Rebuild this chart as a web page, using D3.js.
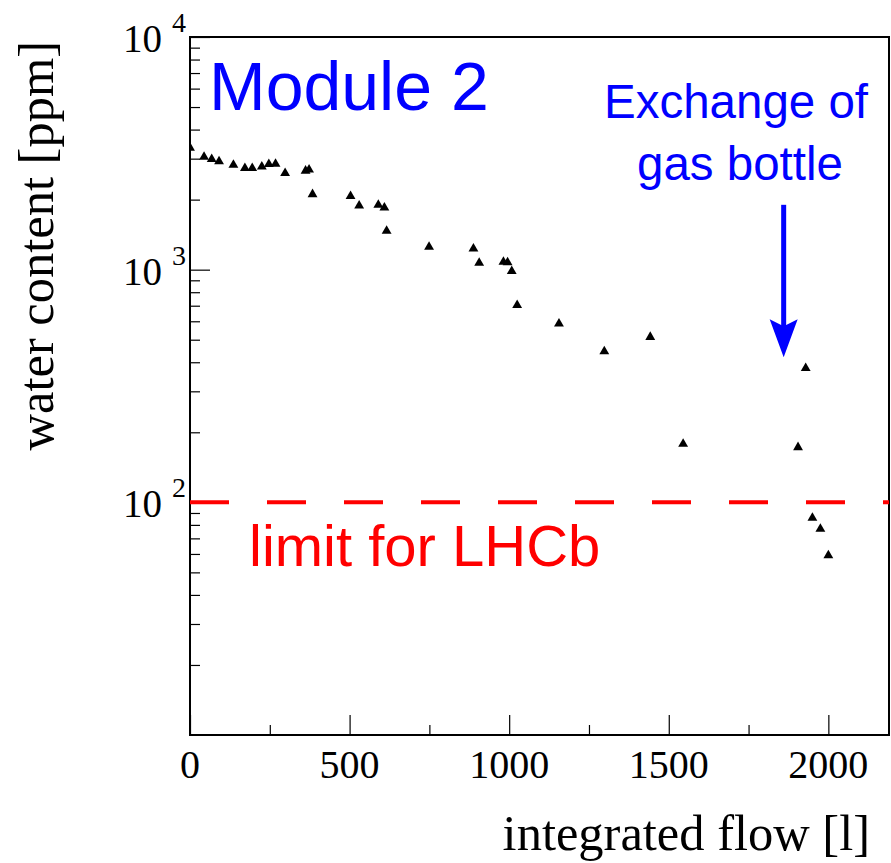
<!DOCTYPE html>
<html>
<head>
<meta charset="utf-8">
<script src="https://cdn.jsdelivr.net/npm/d3@7"></script>
<style>
  body { margin: 0; background: #fff; }
  svg { display: block; }
</style>
</head>
<body>
<div id="chart"></div>
<script>
// measured points (integrated flow in litres, water content in ppm)
const flow  = [0, 44, 68, 91, 136, 172, 195, 225, 247, 268, 298, 362, 373, 384,
               503, 530, 590, 609, 616, 749, 888, 906, 982, 995, 1008, 1025,
               1156, 1298, 1442, 1545, 1905, 1929, 1950, 1975, 2000];
const water = [3390, 3100, 3030, 2960, 2860, 2770, 2770, 2815, 2880, 2890, 2640, 2700, 2730, 2140,
               2100, 1910, 1925, 1875, 1490, 1270, 1250, 1085, 1095, 1090, 1000, 714,
               595, 452, 521, 181, 175, 383, 87, 78, 60];

const xMajor = [0, 500, 1000, 1500, 2000];
const xMinor = [250, 750, 1250, 1750];
const yPowers = [2, 3, 4];
const limitLHCb = 100;
// arrow marking the gas bottle exchange
const arrowFlow = 1860, arrowFrom = 1900, arrowTo = 420;

const W = 891, H = 863;
const pLeft = 190, pRight = 889, pTop = 37, pBottom = 735;

const svg = d3.select("#chart").append("svg")
    .attr("width", W).attr("height", H);

const x = d3.scaleLinear().domain([0, 2190]).range([pLeft, pRight]);
const y = d3.scaleLog().domain([10, 10000]).range([pBottom, pTop]);

svg.append("defs").append("clipPath").attr("id", "plot")
  .append("rect")
    .attr("x", pLeft).attr("y", pTop)
    .attr("width", pRight - pLeft).attr("height", pBottom - pTop);

// y ticks, inside the frame
const yMaj = [100, 1000, 10000];
const yMin = y.ticks().filter(v => !yMaj.includes(v) && v > 10 && v < 10000);
svg.append("g")
    .attr("transform", "translate(" + pLeft + ",0)")
    .call(d3.axisLeft(y).tickValues(yMaj).tickSize(-20).tickFormat(""))
    .call(g => g.select(".domain").remove());
svg.append("g")
    .attr("transform", "translate(" + pLeft + ",0)")
    .call(d3.axisLeft(y).tickValues(yMin).tickSize(-10).tickFormat(""))
    .call(g => g.select(".domain").remove());

// x ticks
svg.append("g")
    .attr("transform", "translate(0," + pBottom + ")")
    .call(d3.axisBottom(x).tickValues(xMajor).tickSize(-20).tickFormat(""))
    .call(g => g.select(".domain").remove());
svg.append("g")
    .attr("transform", "translate(0," + pBottom + ")")
    .call(d3.axisBottom(x).tickValues(xMinor).tickSize(-10).tickFormat(""))
    .call(g => g.select(".domain").remove());

svg.selectAll(".tick line").attr("stroke", "#000").attr("stroke-width", 1.2);

// frame
svg.append("rect")
    .attr("x", pLeft).attr("y", pTop)
    .attr("width", pRight - pLeft).attr("height", pBottom - pTop)
    .attr("fill", "none").attr("stroke", "#000").attr("stroke-width", 2);

// tick labels
const serif = "'Liberation Serif', 'Times New Roman', serif";
svg.append("g").selectAll("text")
  .data(xMajor)
  .join("text")
    .attr("x", d => x(d))
    .attr("y", 778)
    .attr("text-anchor", "middle")
    .attr("font-family", serif)
    .attr("font-size", 40)
    .text(d => d);

const yl = svg.append("g").selectAll("g")
  .data(yPowers)
  .join("g");
yl.append("text")
    .attr("x", 162)
    .attr("y", d => y(Math.pow(10, d)) + 15)
    .attr("text-anchor", "end")
    .attr("font-family", serif)
    .attr("font-size", 39)
    .text("10");
yl.append("text")
    .attr("x", 172)
    .attr("y", d => y(Math.pow(10, d)) - 5)
    .attr("font-family", serif)
    .attr("font-size", 28)
    .text(d => d);

// axis titles
svg.append("text")
    .attr("x", 870).attr("y", 850)
    .attr("text-anchor", "end")
    .attr("font-family", serif)
    .attr("font-size", 50.5)
    .text("integrated flow [l]");
svg.append("text")
    .attr("transform", "translate(53,41) rotate(-90)")
    .attr("text-anchor", "end")
    .attr("font-family", serif)
    .attr("font-size", 50.5)
    .text("water content [ppm]");

// LHCb limit
svg.append("line")
    .attr("x1", pLeft).attr("x2", pRight)
    .attr("y1", y(limitLHCb)).attr("y2", y(limitLHCb))
    .attr("stroke", "#ff0000").attr("stroke-width", 4)
    .attr("stroke-dasharray", "39,38");

// data (triangles sit on their box centre, not the centroid)
const pts = flow.map((f, i) => ({f: f, w: water[i]}));
svg.append("g")
    .attr("clip-path", "url(#plot)")
  .selectAll("path")
  .data(pts)
  .join("path")
    .attr("transform", d => "translate(" + x(d.f) + "," + (y(d.w) + 1.5) + ")")
    .attr("d", d3.symbol(d3.symbolTriangle, 42))
    .attr("fill", "#000");

// annotations
const sans = "'Liberation Sans', Arial, Helvetica, sans-serif";
svg.append("text")
    .attr("x", 209).attr("y", 110)
    .attr("font-family", sans)
    .attr("font-size", 68)
    .attr("fill", "#0000ff")
    .text("Module 2");
svg.append("text")
    .attr("x", 249).attr("y", 566)
    .attr("font-family", sans)
    .attr("font-size", 58)
    .attr("fill", "#ff0000")
    .text("limit for LHCb");
const ex = svg.append("text")
    .attr("font-family", sans)
    .attr("font-size", 47.5)
    .attr("fill", "#0000ff")
    .attr("text-anchor", "middle");
ex.append("tspan").attr("x", 736).attr("y", 118).text("Exchange of");
ex.append("tspan").attr("x", 740).attr("y", 180).text("gas bottle");

const ax = x(arrowFlow), ay0 = y(arrowFrom), ay1 = y(arrowTo);
svg.append("line")
    .attr("x1", ax).attr("x2", ax)
    .attr("y1", ay0).attr("y2", ay1 - 30)
    .attr("stroke", "#0000ff").attr("stroke-width", 5);
svg.append("path")
    .attr("d", "M" + (ax - 14) + "," + (ay1 - 38) +
               "L" + ax + "," + (ay1 - 31) +
               "L" + (ax + 14) + "," + (ay1 - 38) +
               "L" + ax + "," + ay1 + "Z")
    .attr("fill", "#0000ff");
</script>
</body>
</html>
